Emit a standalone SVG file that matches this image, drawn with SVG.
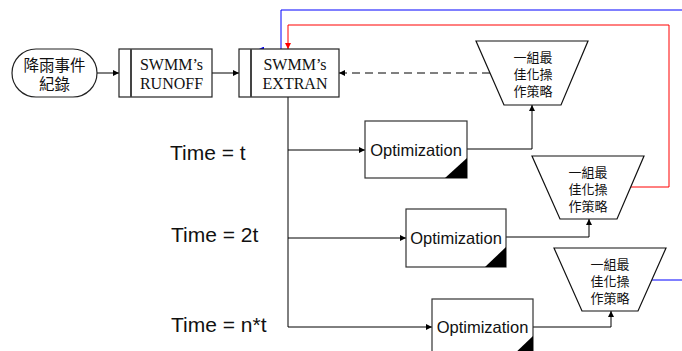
<svg xmlns="http://www.w3.org/2000/svg" width="682" height="351" viewBox="0 0 682 351">
<defs>
<marker id="ak" viewBox="0 0 10 10" refX="10" refY="5" markerWidth="7" markerHeight="6" orient="auto" markerUnits="userSpaceOnUse"><path d="M0,0 L10,5 L0,10 z" fill="#000"/></marker>
<marker id="ab" viewBox="0 0 10 10" refX="10" refY="5" markerWidth="7" markerHeight="6" orient="auto" markerUnits="userSpaceOnUse"><path d="M0,0 L10,5 L0,10 z" fill="#0000ff"/></marker>
<marker id="ar" viewBox="0 0 10 10" refX="10" refY="5" markerWidth="7" markerHeight="6" orient="auto" markerUnits="userSpaceOnUse"><path d="M0,0 L10,5 L0,10 z" fill="#ff0000"/></marker>
<style>
.box{fill:#fff;stroke:#222;stroke-width:1.2}
.inner{stroke:#444;stroke-width:2}
.opt{fill:#fff;stroke:#333;stroke-width:1.2}
.tri{fill:#000}
.trap{fill:#fff;stroke:#111;stroke-width:1.2}
.cjk{font-family:"Noto Sans CJK TC","Noto Sans CJK SC",sans-serif;fill:#111;text-anchor:middle;dominant-baseline:central}
.ser{font-family:"Liberation Serif",serif;font-size:16px;fill:#111;text-anchor:middle;dominant-baseline:central}
.sans{font-family:"Liberation Sans",Arial,sans-serif;fill:#111}
.ln{fill:none;stroke:#000;stroke-width:1}
</style>
</defs>

<g id="connectors">
<path class="ln" d="M97,73 H119" marker-end="url(#ak)"/>
<path class="ln" d="M212,73 H239" marker-end="url(#ak)"/>
<path class="ln" d="M490,73 H339" stroke-width="2" stroke-dasharray="8,5" marker-end="url(#ak)"/>
<path class="ln" d="M288,97 V327" stroke-width="1.8"/>
<path class="ln" d="M288,150 H365" marker-end="url(#ak)"/>
<path class="ln" d="M288,238 H406" marker-end="url(#ak)"/>
<path class="ln" d="M288,327 H432" marker-end="url(#ak)"/>
<path class="ln" d="M467,149 H532 V105" marker-end="url(#ak)"/>
<path class="ln" d="M506,237 H589 V219" marker-end="url(#ak)"/>
<path class="ln" d="M533,327 H611 V311" marker-end="url(#ak)"/>
<path d="M631,187 H669 V25 H288 V49" fill="none" stroke="#ff0000" stroke-width="1" marker-end="url(#ar)"/>
<path d="M652,280 H692 V10 H281 V49.5 H258" fill="none" stroke="#0000ff" stroke-width="1" marker-end="url(#ab)"/>
</g>

<g id="rain">
<rect x="12" y="49" width="85" height="48" rx="24" ry="24" class="box"/>
<text class="cjk" font-size="15.5"><tspan x="54.5" y="64">降雨事件</tspan><tspan x="54.5" y="83">紀錄</tspan></text>
</g>

<g id="runoff">
<rect x="119" y="49" width="93" height="48" class="box"/>
<line x1="131" y1="49" x2="131" y2="97" class="inner"/>
<text class="ser"><tspan x="171.5" y="64">SWMM’s</tspan><tspan x="171.5" y="83">RUNOFF</tspan></text>
</g>

<g id="extran">
<rect x="239" y="49" width="100" height="48" class="box"/>
<line x1="251" y1="49" x2="251" y2="97" class="inner"/>
<text class="ser"><tspan x="295" y="64">SWMM’s</tspan><tspan x="295" y="83">EXTRAN</tspan></text>
</g>

<g id="strategy1">
<polygon points="476,41 588,41 561,105 504,105" class="trap"/>
<text class="cjk" font-size="13"><tspan x="533" y="56">一組最</tspan><tspan x="533" y="73">佳化操</tspan><tspan x="533" y="90">作策略</tspan></text>
</g>

<g id="strategy2">
<polygon points="532,156 644,156 617,219 560,219" class="trap"/>
<text class="cjk" font-size="13"><tspan x="588" y="171">一組最</tspan><tspan x="588" y="188">佳化操</tspan><tspan x="588" y="205">作策略</tspan></text>
</g>

<g id="strategy3">
<polygon points="554,248 666,248 638,311 582,311" class="trap"/>
<text class="cjk" font-size="13"><tspan x="610" y="263">一組最</tspan><tspan x="610" y="280">佳化操</tspan><tspan x="610" y="297">作策略</tspan></text>
</g>

<g id="opt1">
<rect x="365" y="121" width="102" height="57" class="opt"/>
<polygon points="467,158 467,178 445,178" class="tri"/>
<text class="sans" x="416" y="156" font-size="16.5" text-anchor="middle">Optimization</text>
</g>

<g id="opt2">
<rect x="406" y="209" width="100" height="58" class="opt"/>
<polygon points="506,247 506,267 485,267" class="tri"/>
<text class="sans" x="456" y="244" font-size="16.5" text-anchor="middle">Optimization</text>
</g>

<g id="opt3">
<rect x="432" y="299" width="101" height="58" class="opt"/>
<polygon points="533,336 533,357 511,357" class="tri"/>
<text class="sans" x="482.5" y="333" font-size="16.5" text-anchor="middle">Optimization</text>
</g>

<g id="labels">
<text class="sans" x="170" y="160" font-size="21">Time = t</text>
<text class="sans" x="171" y="242" font-size="21">Time = 2t</text>
<text class="sans" x="171" y="332" font-size="21">Time = n*t</text>
</g>
</svg>
